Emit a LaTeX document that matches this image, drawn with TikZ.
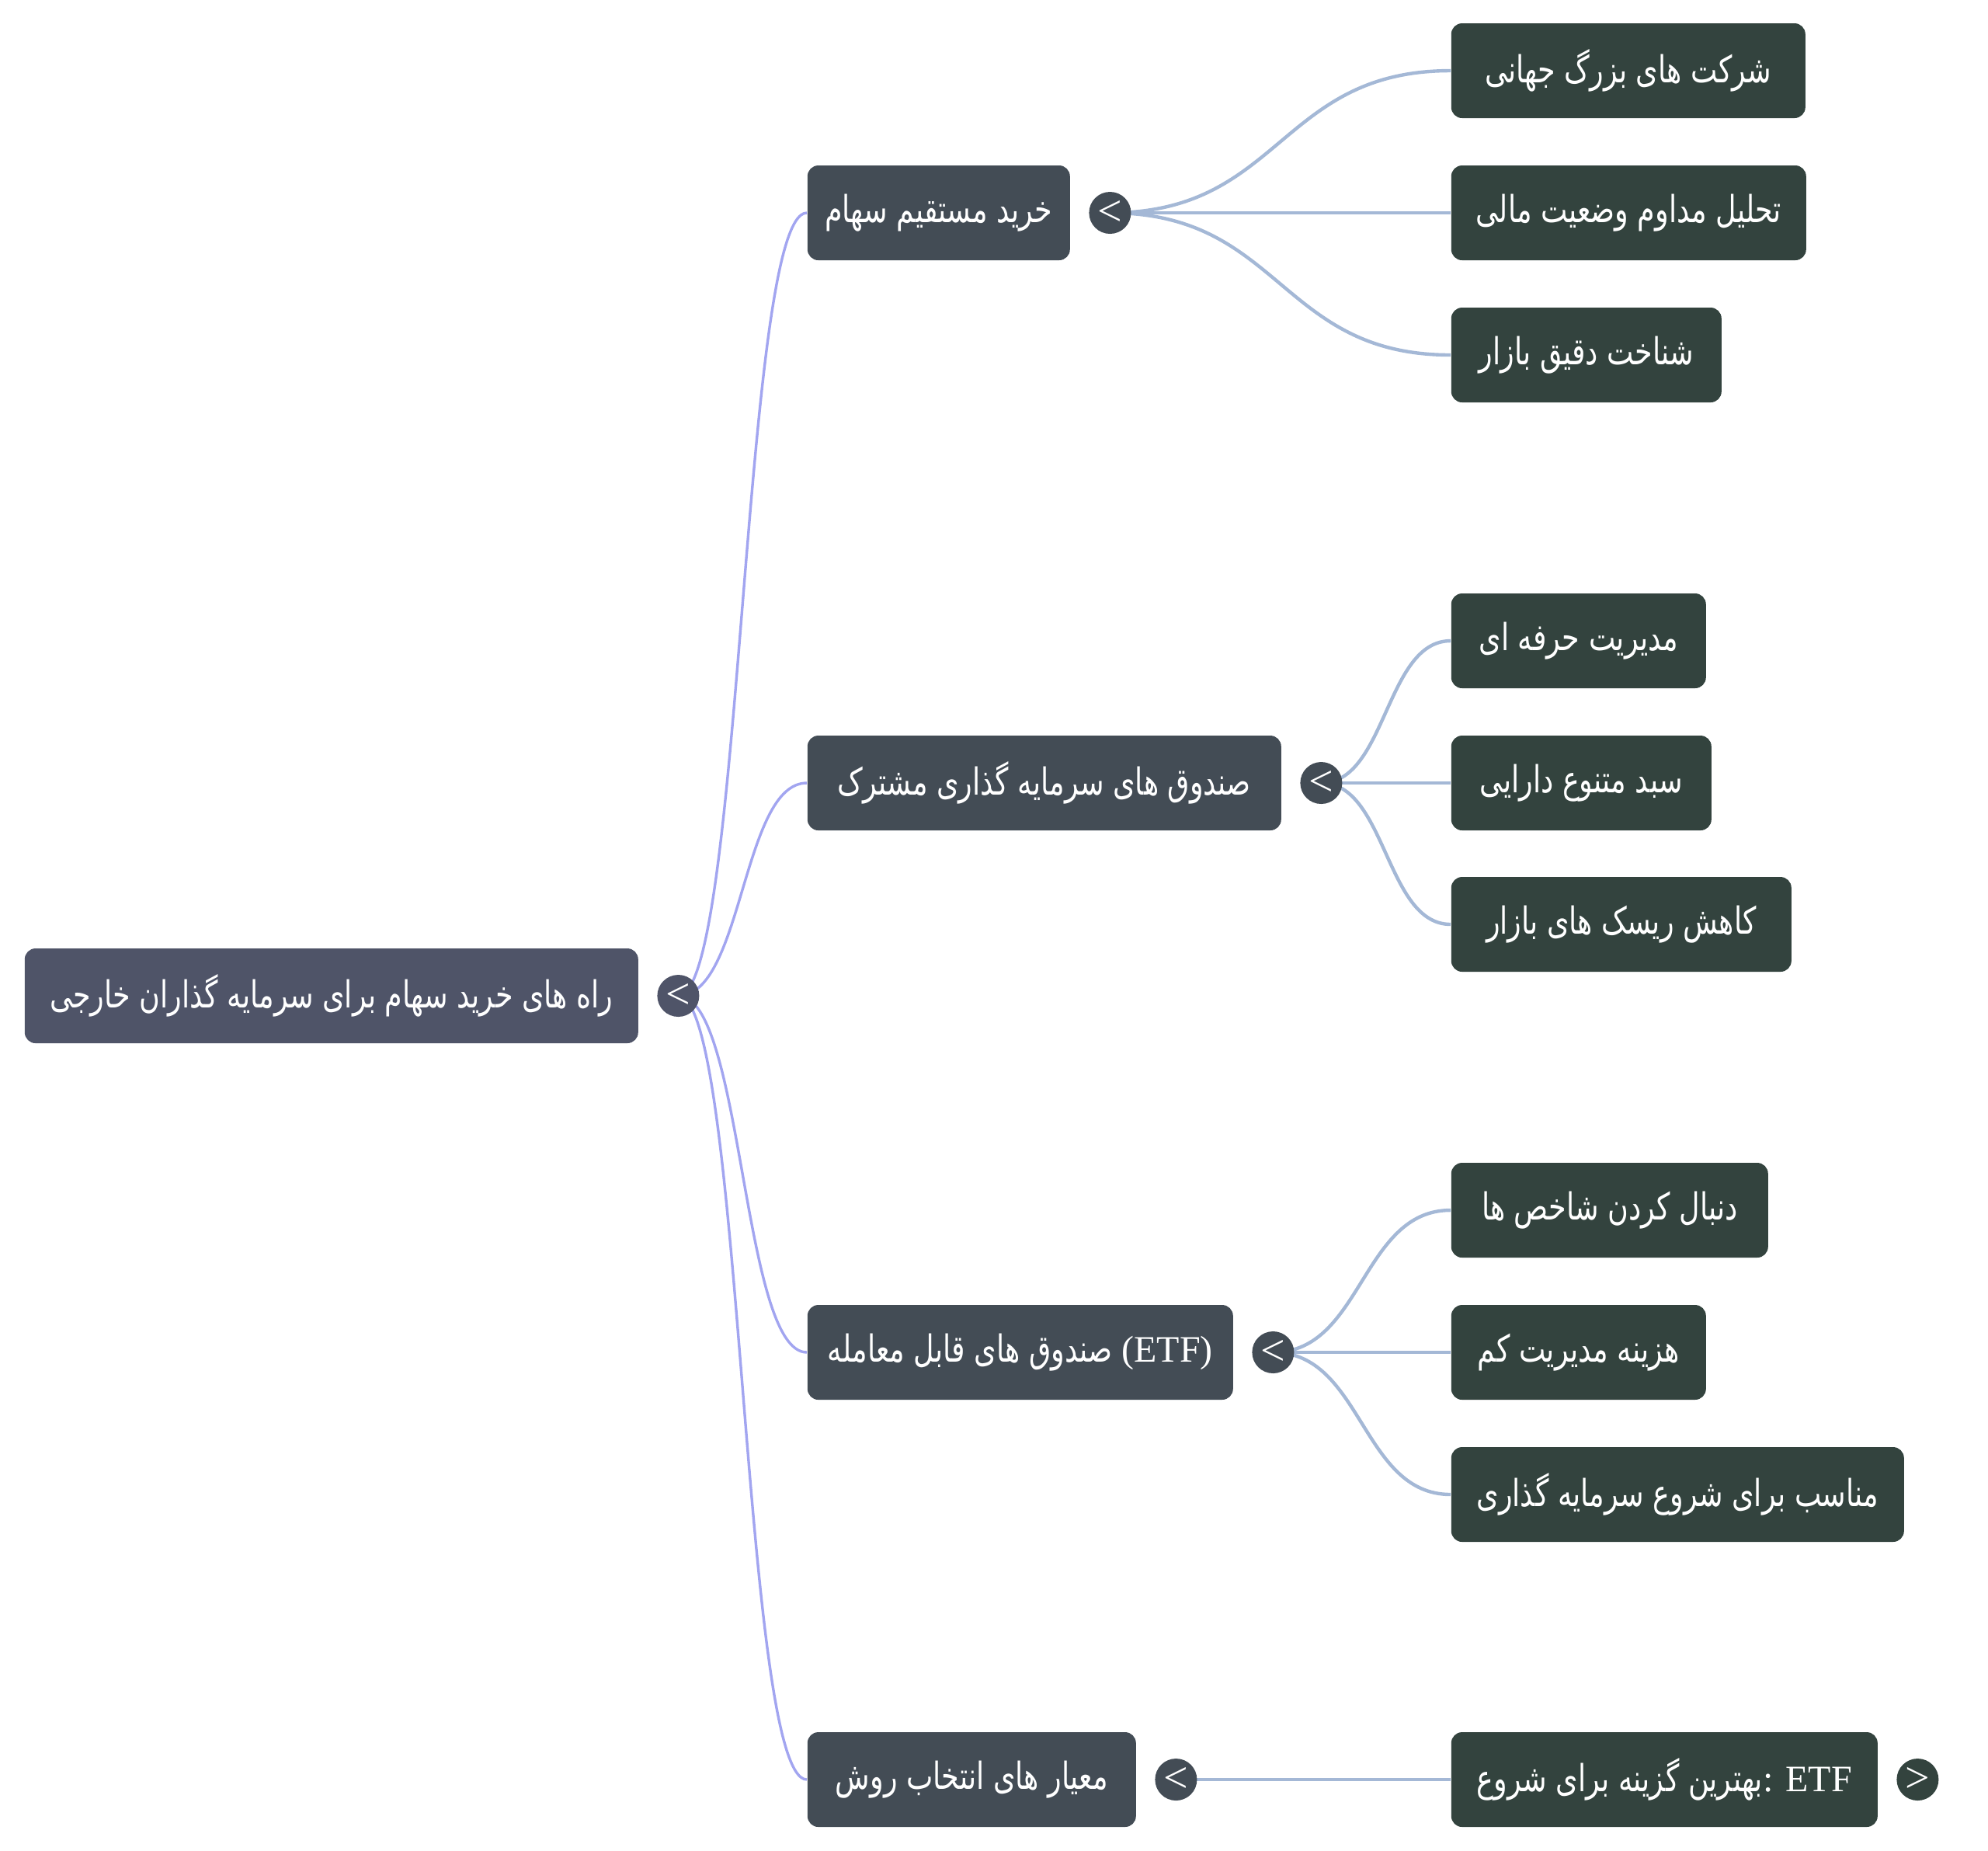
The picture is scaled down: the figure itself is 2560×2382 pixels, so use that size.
\documentclass[tikz,border=0pt]{standalone}
\usepackage{fontspec}
\setmainfont{Liberation Serif}
\newfontfamily\farsi[Script=Arabic, FakeStretch=0.76]{DejaVu Sans}
\TeXXeTstate=1
\usetikzlibrary{positioning,backgrounds}
\definecolor{rootfill}{HTML}{4F5468}
\definecolor{topicfill}{HTML}{434C55}
\definecolor{leaffill}{HTML}{33433E}
\definecolor{rootedge}{HTML}{A2A5F0}
\definecolor{leafedge}{HTML}{A4B8D6}
\newcommand{\fatext}[1]{{\farsi\beginR #1\endR}}
\tikzset{
  box/.style={rectangle, rounded corners=3.5pt, minimum height=30.5pt, inner sep=0pt,
    text=white, font=\fontsize{12}{14}\selectfont, anchor=west},
  rootbox/.style={box, fill=rootfill},
  topicbox/.style={box, fill=topicfill},
  leafbox/.style={box, fill=leaffill},
  knob/.style={circle, minimum size=13.5pt, inner sep=0pt, text=white,
    font=\fontsize{14}{14}\selectfont},
  rootline/.style={draw=rootedge, line width=0.85pt},
  leafline/.style={draw=leafedge, line width=1.1pt},
}
\begin{document}
\begin{tikzpicture}[x=0.25pt, y=-0.25pt]
\useasboundingbox (0,0) rectangle (2560,2382);
% root
\node[rootbox, minimum width=197.5pt] (R) at (31,1282) {\fatext{راه های خرید سهام برای سرمایه گذاران خارجی}};
\node[knob, fill=rootfill, right=5.75pt of R] (kR) {<};
% topics
\foreach \n/\y/\w/\t in {A/274/84.5/{\fatext{خرید مستقیم سهام}},
    B/1008/152.5/{\fatext{صندوق های سرمایه گذاری مشترک}},
    C/1741/137/{\fatext{صندوق های قابل معامله} (ETF)},
    D/2291/105.75/{\fatext{معیار های انتخاب روش}}}
  \node[topicbox, minimum width=\w pt] (\n) at (1039,\y) {\t};
\foreach \n in {A,B,C,D}
  \node[knob, fill=topicfill, right=5.75pt of \n] (k\n) {<};
% leaves
\foreach \n/\y/\w/\t in {A1/91/114/{\fatext{شرکت های بزرگ جهانی}},
    A2/274/114.25/{\fatext{تحلیل مداوم وضعیت مالی}},
    A3/457/87/{\fatext{شناخت دقیق بازار}},
    B1/825/82/{\fatext{مدیریت حرفه ای}},
    B2/1008/83.75/{\fatext{سبد متنوع دارایی}},
    B3/1190/109.5/{\fatext{کاهش ریسک های بازار}},
    C1/1558/102/{\fatext{دنبال کردن شاخص ها}},
    C2/1741/82/{\fatext{هزینه مدیریت کم}},
    C3/1924/145.75/{\fatext{مناسب برای شروع سرمایه گذاری}},
    D1/2291/137.25/{\fatext{بهترین گزینه برای شروع}: ETF}}
  \node[leafbox, minimum width=\w pt] (\n) at (1868,\y) {\t};
\node[knob, fill=leaffill, right=5.75pt of D1] (kD1) {>};
% connectors
\begin{scope}[on background layer]
\foreach \n in {A,B,C,D}
  \draw[rootline] (kR.center) to[out=0, in=180, distance=20.9pt] (\n.west);
\foreach \p/\n/\d in {A/A1/55.1, A/A2/55.1, A/A3/55.1, B/B1/21, B/B2/21, B/B3/21,
    C/C1/28.75, C/C2/28.75, C/C3/28.75, D/D1/44.5}
  \draw[leafline] (k\p.center) to[out=0, in=180, distance=\d pt] (\n.west);
\end{scope}
\end{tikzpicture}
\end{document}
